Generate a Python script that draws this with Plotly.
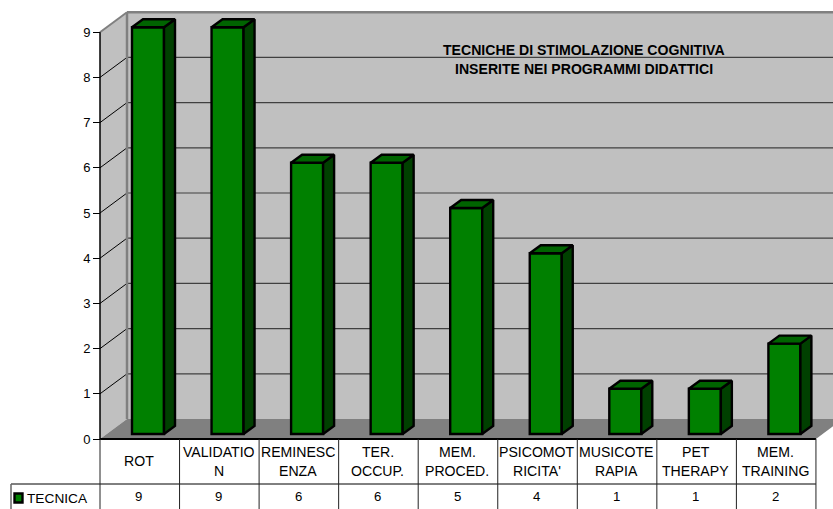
import plotly.graph_objects as go

categories = ["ROT", "VALIDATIO\nN", "REMINESC\nENZA", "TER.\nOCCUP.", "MEM.\nPROCED.",
              "PSICOMOT\nRICITA'", "MUSICOTE\nRAPIA", "PET\nTHERAPY", "MEM.\nTRAINING"]
values = [9, 9, 6, 6, 5, 4, 1, 1, 2]
y_ticks = [0, 1, 2, 3, 4, 5, 6, 7, 8, 9]
series_name = "TECNICA"
title_lines = ["TECNICHE DI STIMOLAZIONE COGNITIVA", "INSERITE NEI PROGRAMMI DIDATTICI"]

W, H = 833, 509
X0, Y0 = 100.0, 439.0      # pixel position of the chart origin
CAT_W, UNIT_H = 79.55, 45.2  # pixels per category / per value unit


def ux(px):
    return (px - X0) / CAT_W


def uy(px):
    return (Y0 - px) / UNIT_H


WALL_DX, WALL_DY = ux(X0 + 27) - ux(X0), uy(Y0 - 20) - uy(Y0)
BAR_DX, BAR_DY = 11 / CAT_W, 8 / UNIT_H
BAR_OFF_X, BAR_OFF_Y = 32 / CAT_W, 5 / UNIT_H
BAR_W = 32 / CAT_W
N = len(categories)
TOP = max(y_ticks)
TEXT = "#000000"
FONT = "Liberation Sans, Arial, sans-serif"


def poly(pts, fill, line=None, width=0, layer="below"):
    path = "M" + " L".join(f"{x},{y}" for x, y in pts) + " Z"
    return dict(type="path", path=path, xref="x", yref="y", fillcolor=fill, layer=layer,
                line=dict(color=line or fill, width=width))


def seg(a, b, color, width, layer="below"):
    return dict(type="line", xref="x", yref="y", x0=a[0], y0=a[1], x1=b[0], y1=b[1],
                layer=layer, line=dict(color=color, width=width))


shapes = []
RIGHT = N + 1
# walls and floor
shapes.append(poly([(WALL_DX, WALL_DY), (RIGHT, WALL_DY), (RIGHT, TOP + WALL_DY), (WALL_DX, TOP + WALL_DY)], "#C0C0C0"))
shapes.append(poly([(0, 0), (WALL_DX, WALL_DY), (WALL_DX, TOP + WALL_DY), (0, TOP)], "#C0C0C0"))
shapes.append(poly([(0, 0), (WALL_DX, WALL_DY), (N + WALL_DX, WALL_DY), (N, 0)], "#808080"))
# gridlines
for t in y_ticks[1:-1]:
    shapes.append(seg((WALL_DX, t + WALL_DY), (RIGHT, t + WALL_DY), "#404040", 1.2))
    shapes.append(seg((0, t), (WALL_DX, t + WALL_DY), "#000000", 1))
shapes.append(seg((WALL_DX, WALL_DY), (WALL_DX, TOP + WALL_DY), "#808080", 2.5))
shapes.append(seg((WALL_DX, TOP + WALL_DY), (RIGHT, TOP + WALL_DY), "#808080", 2.5))
shapes.append(seg((0, TOP), (WALL_DX, TOP + WALL_DY), "#808080", 2))
shapes.append(seg((0, 0), (0, TOP), "#000000", 1.5))

# data table
row1 = uy(484)
bottom = uy(H)
left = ux(11)
shapes.append(seg((0, 0), (N, 0), "#000000", 2))
shapes.append(seg((left, row1), (N, row1), "#000000", 1))
shapes.append(seg((left, row1), (left, bottom), "#666666", 1.5))
for i in range(N + 1):
    shapes.append(seg((i, 0), (i, bottom), "#222222", 1))

fig = go.Figure()

# bar fronts
fig.add_trace(go.Bar(
    x=[i + BAR_OFF_X + BAR_W / 2 for i in range(N)],
    y=values,
    base=[BAR_OFF_Y] * N,
    width=[BAR_W] * N,
    marker=dict(color="#008000", line=dict(color="#000000", width=2.4)),
    showlegend=False, hoverinfo="skip",
))

# bar tops and sides
for i, v in enumerate(values):
    xl = i + BAR_OFF_X
    xr = xl + BAR_W
    yb = BAR_OFF_Y
    yt = v + BAR_OFF_Y
    fig.add_trace(go.Scatter(
        x=[xr, xr + BAR_DX, xr + BAR_DX, xr, xr],
        y=[yb, yb + BAR_DY, yt + BAR_DY, yt, yb],
        mode="lines", fill="toself", fillcolor="#004000",
        line=dict(color="#000000", width=2.4), showlegend=False, hoverinfo="skip",
    ))
    fig.add_trace(go.Scatter(
        x=[xl, xl + BAR_DX, xr + BAR_DX, xr, xl],
        y=[yt, yt + BAR_DY, yt + BAR_DY, yt, yt],
        mode="lines", fill="toself", fillcolor="#006400",
        line=dict(color="#000000", width=2.4), showlegend=False, hoverinfo="skip",
    ))

ann = []


def text(x, y, s, size=14.1, bold=False, anchor="center"):
    ann.append(dict(x=x, y=y, xref="x", yref="y", text=f"<b>{s}</b>" if bold else s, showarrow=False,
                    xanchor=anchor, yanchor="middle", font=dict(family=FONT, size=size, color=TEXT)))


for i, c in enumerate(categories):
    lines = c.split("\n")
    cx = i + 0.5
    if len(lines) == 1:
        text(cx - 0.01, uy(461), lines[0])
    else:
        text(cx - 0.01, uy(452), lines[0])
        text(cx - 0.01, uy(471), lines[1])
    text(cx - 0.01, uy(496.5), str(values[i]), size=13.2)

text(ux(25), uy(498), series_name, size=13.7, anchor="left")
shapes.append(poly([(ux(14.5), uy(493.5)), (ux(22.5), uy(493.5)), (ux(22.5), uy(502.5)), (ux(14.5), uy(502.5))],
                   "#008000", "#000000", 2.4, layer="above"))

text(ux(584), uy(50), title_lines[0], size=14.1, bold=True)
text(ux(584), uy(69), title_lines[1], size=14.1, bold=True)

fig.update_layout(
    width=W, height=H, margin=dict(l=0, r=0, t=0, b=0, pad=0),
    paper_bgcolor="#FFFFFF", plot_bgcolor="#FFFFFF",
    shapes=shapes, annotations=ann, showlegend=False,
    font=dict(family=FONT, color=TEXT),
    xaxis=dict(range=[ux(0), ux(W)], domain=[0, 1], visible=False, fixedrange=True),
    yaxis=dict(range=[uy(H), uy(0)], domain=[0, 1], anchor="free", position=X0 / W,
               tickmode="array", tickvals=y_ticks, ticktext=[str(t) for t in y_ticks],
               ticks="outside", ticklen=7, tickwidth=1, tickcolor="#000000",
               tickfont=dict(family=FONT, size=13, color=TEXT),
               showgrid=False, zeroline=False, showline=False, fixedrange=True),
)
fig.write_html("out.html", config=dict(displayModeBar=False),
               post_script="document.documentElement.style.overflow='hidden';document.body.style.margin='0';")
